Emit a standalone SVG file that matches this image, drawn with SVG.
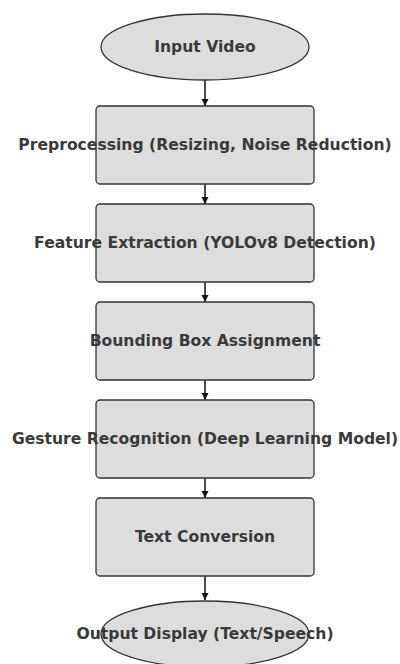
<svg xmlns="http://www.w3.org/2000/svg" width="400" height="664" viewBox="0 0 400 664">
<style>
.n{fill:#dddddd;stroke:#333333;stroke-width:1.3}
.t{font-family:"DejaVu Sans",sans-serif;font-weight:bold;font-size:15.6px;fill:#3a3a3a;text-anchor:middle;dominant-baseline:central}
.e{stroke:#111111;stroke-width:1.5;fill:none}
</style>
<defs>
<marker id="ah" markerWidth="8" markerHeight="8" refX="7" refY="4" orient="auto" markerUnits="userSpaceOnUse">
<path d="M0,0.5 L7,4 L0,7.5 Z" fill="#111111"/>
</marker>
</defs>
<rect width="400" height="664" fill="#ffffff"/>
<g id="connectors">
<line class="e" x1="205" y1="80" x2="205" y2="106" marker-end="url(#ah)"/>
<line class="e" x1="205" y1="180" x2="205" y2="204" marker-end="url(#ah)"/>
<line class="e" x1="205" y1="278" x2="205" y2="302" marker-end="url(#ah)"/>
<line class="e" x1="205" y1="376" x2="205" y2="400" marker-end="url(#ah)"/>
<line class="e" x1="205" y1="474" x2="205" y2="498" marker-end="url(#ah)"/>
<line class="e" x1="205" y1="572" x2="205" y2="600" marker-end="url(#ah)"/>
</g>
<g id="input">
<ellipse class="n" cx="205" cy="47" rx="104" ry="33"/>
<text class="t" x="205" y="47">Input Video</text>
</g>
<g id="preprocessing">
<rect class="n" x="96" y="106" width="218" height="78" rx="4"/>
<text class="t" x="205" y="145">Preprocessing (Resizing, Noise Reduction)</text>
</g>
<g id="feature">
<rect class="n" x="96" y="204" width="218" height="78" rx="4"/>
<text class="t" x="205" y="243">Feature Extraction (YOLOv8 Detection)</text>
</g>
<g id="bbox">
<rect class="n" x="96" y="302" width="218" height="78" rx="4"/>
<text class="t" x="205" y="341">Bounding Box Assignment</text>
</g>
<g id="gesture">
<rect class="n" x="96" y="400" width="218" height="78" rx="4"/>
<text class="t" x="205" y="439">Gesture Recognition (Deep Learning Model)</text>
</g>
<g id="textconv">
<rect class="n" x="96" y="498" width="218" height="78" rx="4"/>
<text class="t" x="205" y="537">Text Conversion</text>
</g>
<g id="output">
<ellipse class="n" cx="205" cy="634" rx="104" ry="33"/>
<text class="t" x="205" y="634">Output Display (Text/Speech)</text>
</g>
</svg>
